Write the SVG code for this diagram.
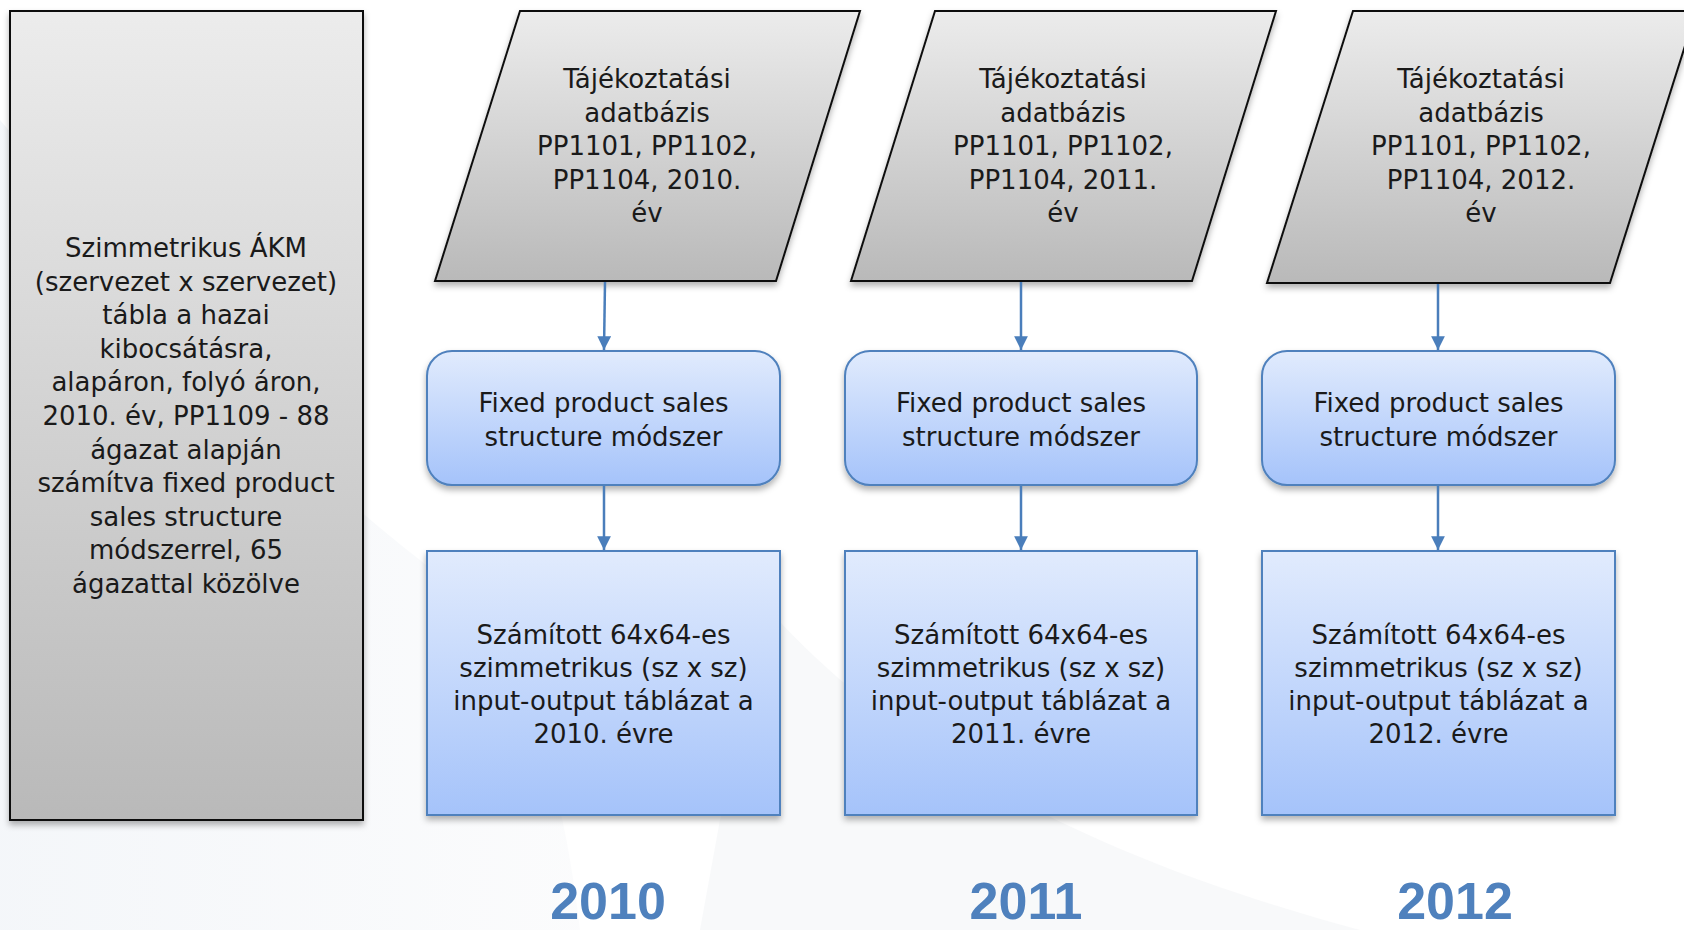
<svg xmlns="http://www.w3.org/2000/svg" width="1684" height="930" viewBox="0 0 1684 930">
  <defs>
    <linearGradient id="gray" x1="0" y1="0" x2="0" y2="1">
      <stop offset="0" stop-color="#ececec"/>
      <stop offset="1" stop-color="#b9b9b9"/>
    </linearGradient>
    <linearGradient id="blue" x1="0" y1="0" x2="0" y2="1">
      <stop offset="0" stop-color="#e1ebfd"/>
      <stop offset="1" stop-color="#a5c3fa"/>
    </linearGradient>
    <linearGradient id="bg1" x1="0" y1="0" x2="1" y2="0">
      <stop offset="0" stop-color="#e9eef4"/>
      <stop offset="1" stop-color="#f7f8fa"/>
    </linearGradient>
    <filter id="shadow" x="-10%" y="-10%" width="120%" height="125%">
      <feDropShadow dx="0" dy="4" stdDeviation="3" flood-color="#000" flood-opacity="0.3"/>
    </filter>
    <marker id="arrow" viewBox="0 0 10 10" refX="10" refY="5" markerWidth="5.5" markerHeight="5.5" markerUnits="strokeWidth" orient="auto">
      <path d="M0,0 L10,5 L0,10 z" fill="#4a7ebb"/>
    </marker>
    <style>
      .t { font-family: "DejaVu Sans", "Liberation Sans", sans-serif; font-size: 26px; fill: #1a1a1a; text-anchor: middle; }
      .yr { font-family: "Liberation Sans", Arial, sans-serif; font-weight: bold; font-size: 52px; fill: #4f81bd; text-anchor: middle; }
      .grayshape { fill: url(#gray); stroke: #111; stroke-width: 2; filter: url(#shadow); }
      .blueshape { fill: url(#blue); stroke: #4f81bd; stroke-width: 2; filter: url(#shadow); }
      .conn { stroke: #4a7ebb; stroke-width: 2.5; fill: none; marker-end: url(#arrow); }
    </style>
  </defs>

  <!-- background -->
  <rect x="0" y="0" width="1684" height="930" fill="#ffffff"/>
  <path d="M0,120 C120,260 240,420 420,560 C520,640 560,760 580,930 L0,930 Z" fill="url(#bg1)" opacity="0.5"/>
  <path d="M760,600 C900,760 1100,860 1360,930 L700,930 Z" fill="#f1f3f6" opacity="0.5"/>

  <!-- left node -->
  <g id="n_akm">
    <rect class="grayshape" x="10" y="11" width="353" height="809"/>
    <text class="t" x="186" y="257">Szimmetrikus ÁKM</text>
    <text class="t" x="186" y="290.6">(szervezet x szervezet)</text>
    <text class="t" x="186" y="324.2">tábla a hazai</text>
    <text class="t" x="186" y="357.8">kibocsátásra,</text>
    <text class="t" x="186" y="391.4">alapáron, folyó áron,</text>
    <text class="t" x="186" y="425">2010. év, PP1109 - 88</text>
    <text class="t" x="186" y="458.6">ágazat alapján</text>
    <text class="t" x="186" y="492.2">számítva fixed product</text>
    <text class="t" x="186" y="525.8">sales structure</text>
    <text class="t" x="186" y="559.4">módszerrel, 65</text>
    <text class="t" x="186" y="593">ágazattal közölve</text>
  </g>

  <!-- column 2010 -->
  <g id="n_db2010">
    <polygon class="grayshape" points="520,11 860,11 776,281 435,281"/>
    <text class="t" x="647" y="88">Tájékoztatási</text>
    <text class="t" x="647" y="121.5">adatbázis</text>
    <text class="t" x="647" y="155">PP1101, PP1102,</text>
    <text class="t" x="647" y="188.5">PP1104, 2010.</text>
    <text class="t" x="647" y="222">év</text>
  </g>
  <g id="n_fps2010">
    <rect class="blueshape" x="427" y="351" width="353" height="134" rx="25" ry="25"/>
    <text class="t" x="603.5" y="412">Fixed product sales</text>
    <text class="t" x="603.5" y="446">structure módszer</text>
  </g>
  <g id="n_io2010">
    <rect class="blueshape" x="427" y="551" width="353" height="264"/>
    <text class="t" x="603.5" y="644">Számított 64x64-es</text>
    <text class="t" x="603.5" y="677">szimmetrikus (sz x sz)</text>
    <text class="t" x="603.5" y="710">input-output táblázat a</text>
    <text class="t" x="603.5" y="743">2010. évre</text>
  </g>

  <!-- column 2011 -->
  <g id="n_db2011">
    <polygon class="grayshape" points="935,11 1276,11 1192,281 851,281"/>
    <text class="t" x="1063" y="88">Tájékoztatási</text>
    <text class="t" x="1063" y="121.5">adatbázis</text>
    <text class="t" x="1063" y="155">PP1101, PP1102,</text>
    <text class="t" x="1063" y="188.5">PP1104, 2011.</text>
    <text class="t" x="1063" y="222">év</text>
  </g>
  <g id="n_fps2011">
    <rect class="blueshape" x="845" y="351" width="352" height="134" rx="25" ry="25"/>
    <text class="t" x="1021" y="412">Fixed product sales</text>
    <text class="t" x="1021" y="446">structure módszer</text>
  </g>
  <g id="n_io2011">
    <rect class="blueshape" x="845" y="551" width="352" height="264"/>
    <text class="t" x="1021" y="644">Számított 64x64-es</text>
    <text class="t" x="1021" y="677">szimmetrikus (sz x sz)</text>
    <text class="t" x="1021" y="710">input-output táblázat a</text>
    <text class="t" x="1021" y="743">2011. évre</text>
  </g>

  <!-- column 2012 -->
  <g id="n_db2012">
    <polygon class="grayshape" points="1353,11 1696,11 1610,283 1267,283"/>
    <text class="t" x="1481" y="88">Tájékoztatási</text>
    <text class="t" x="1481" y="121.5">adatbázis</text>
    <text class="t" x="1481" y="155">PP1101, PP1102,</text>
    <text class="t" x="1481" y="188.5">PP1104, 2012.</text>
    <text class="t" x="1481" y="222">év</text>
  </g>
  <g id="n_fps2012">
    <rect class="blueshape" x="1262" y="351" width="353" height="134" rx="25" ry="25"/>
    <text class="t" x="1438.5" y="412">Fixed product sales</text>
    <text class="t" x="1438.5" y="446">structure módszer</text>
  </g>
  <g id="n_io2012">
    <rect class="blueshape" x="1262" y="551" width="353" height="264"/>
    <text class="t" x="1438.5" y="644">Számított 64x64-es</text>
    <text class="t" x="1438.5" y="677">szimmetrikus (sz x sz)</text>
    <text class="t" x="1438.5" y="710">input-output táblázat a</text>
    <text class="t" x="1438.5" y="743">2012. évre</text>
  </g>

  <!-- connectors -->
  <g id="connectors">
    <line class="conn" x1="605" y1="282" x2="604" y2="350"/>
    <line class="conn" x1="604" y1="486" x2="604" y2="550"/>
    <line class="conn" x1="1021" y1="282" x2="1021" y2="350"/>
    <line class="conn" x1="1021" y1="486" x2="1021" y2="550"/>
    <line class="conn" x1="1438" y1="284" x2="1438" y2="350"/>
    <line class="conn" x1="1438" y1="486" x2="1438" y2="550"/>
  </g>

  <!-- year labels -->
  <g id="years">
    <text class="yr" x="608" y="919">2010</text>
    <text class="yr" x="1026" y="919">2011</text>
    <text class="yr" x="1455" y="919">2012</text>
  </g>
</svg>
